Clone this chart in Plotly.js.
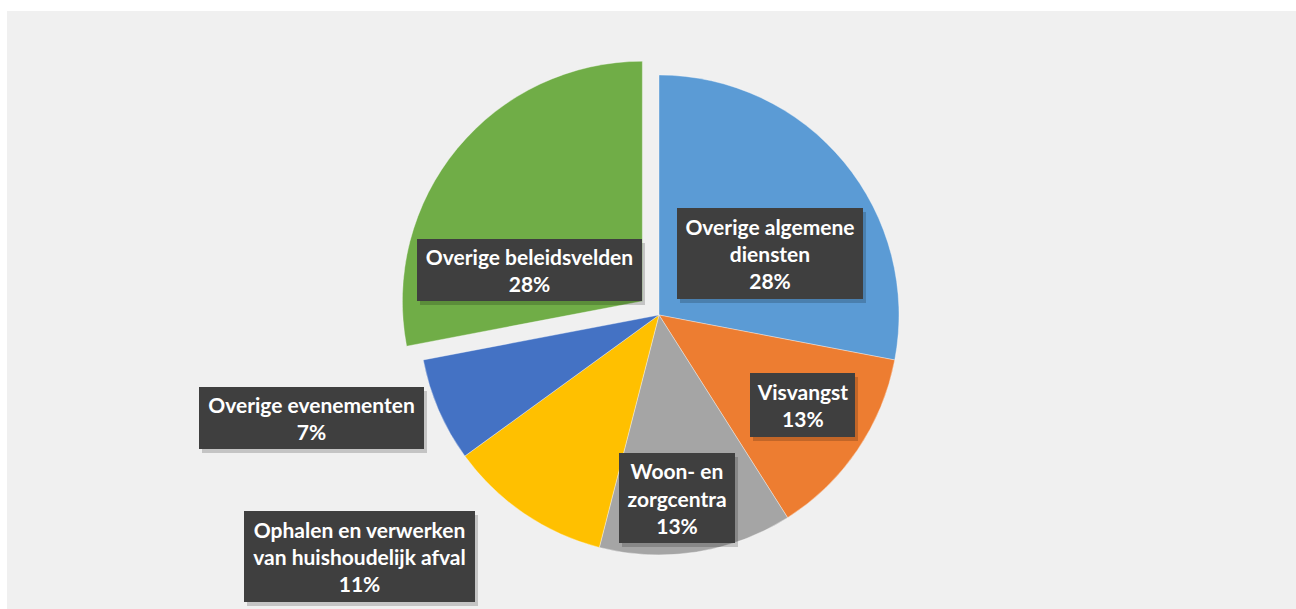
<!DOCTYPE html>
<html>
<head>
<meta charset="utf-8">
<script src="https://cdn.plot.ly/plotly-3.0.1.min.js"></script>
<style>html,body{margin:0;padding:0;background:#fff;}#chart{width:1296px;height:609px;}</style>
</head>
<body>
<div id="chart"></div>
<script>
// Data
const categories = ["Overige algemene diensten", "Visvangst", "Woon- en zorgcentra", "Ophalen en verwerken van huishoudelijk afval", "Overige evenementen", "Overige beleidsvelden"];
const values = [28, 13, 13, 11, 7, 28];
const labelTexts = ["Overige algemene<br>diensten<br>28%", "Visvangst<br>13%", "Woon- en<br>zorgcentra<br>13%", "Ophalen en verwerken<br>van huishoudelijk afval<br>11%", "Overige evenementen<br>7%", "Overige beleidsvelden<br>28%"];
const colors = ["#5B9BD5", "#ED7D31", "#A5A5A5", "#FFC000", "#4472C4", "#70AD47"];
const pulls = [0, 0, 0, 0, 0, 0.09];

// label box layout (pixel centers and sizes)
const W = 1296, H = 609;
const boxes = [
  {cx: 770, cy: 253.5, w: 186, h: 91},
  {cx: 802.5, cy: 405, w: 105, h: 64},
  {cx: 677, cy: 498, w: 116, h: 90},
  {cx: 359.5, cy: 556.5, w: 231, h: 91},
  {cx: 311.5, cy: 418, w: 225, h: 62},
  {cx: 529.5, cy: 270, w: 225, h: 62}
];

const cx = 659, cy = 315, r = 240;
const half = r * (1 + Math.max(...pulls));
const domain = {
  x: [(cx - half) / W, (cx + half) / W],
  y: [1 - (cy + half) / H, 1 - (cy - half) / H]
};

const trace = {
  type: 'pie',
  labels: categories,
  values: values,
  sort: false,
  direction: 'clockwise',
  rotation: 0,
  pull: pulls,
  textinfo: 'none',
  hoverinfo: 'label+percent',
  marker: {colors: colors, line: {color: 'rgba(255,255,255,0.6)', width: 0.6}},
  domain: domain,
  showlegend: false
};

const font = {family: 'Lato, "Open Sans", sans-serif', size: 21, color: '#FFFFFF', weight: 700};
const shapes = [{type: 'rect', xref: 'paper', yref: 'paper', x0: 7 / W, x1: 1, y0: 0, y1: 1 - 11 / H,
  fillcolor: '#F0F0F0', line: {width: 0}, layer: 'below'}];
const annotations = [];
boxes.forEach((b, i) => {
  // soft shadow behind each label box
  shapes.push({
    type: 'rect', xref: 'paper', yref: 'paper', layer: 'above',
    x0: (b.cx - b.w / 2 + 3) / W, x1: (b.cx + b.w / 2 + 3) / W,
    y0: 1 - (b.cy + b.h / 2 + 4) / H, y1: 1 - (b.cy - b.h / 2 + 4) / H,
    fillcolor: 'rgba(0,0,0,0.18)', line: {width: 0}
  });
  annotations.push({
    xref: 'paper', yref: 'paper', x: b.cx / W, y: 1 - b.cy / H,
    xanchor: 'center', yanchor: 'middle',
    text: labelTexts[i], showarrow: false, width: b.w, height: b.h,
    bgcolor: '#3F3F3F', borderpad: 0, borderwidth: 0,
    font: font, align: 'center', valign: 'middle'
  });
});

const layout = {
  width: W, height: H,
  margin: {l: 0, r: 0, t: 0, b: 0},
  paper_bgcolor: '#FFFFFF',
  plot_bgcolor: '#F0F0F0',
  shapes: shapes,
  annotations: annotations
};

Plotly.newPlot('chart', [trace], layout, {displayModeBar: false, staticPlot: true});
</script>
</body>
</html>
